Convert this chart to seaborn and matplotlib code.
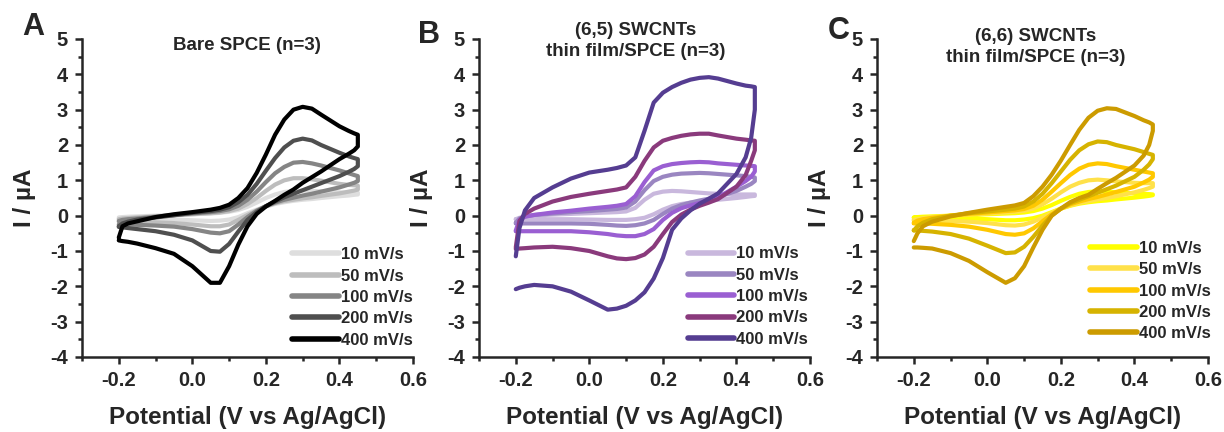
import numpy as np
import pandas as pd
import matplotlib
matplotlib.use("Agg")
import matplotlib.pyplot as plt
from matplotlib.ticker import MultipleLocator
import seaborn as sns

# ---------------- data ----------------
RATES = ["10 mV/s", "50 mV/s", "100 mV/s", "200 mV/s", "400 mV/s"]

V_FWD = [-0.2, -0.19, -0.175, -0.15, -0.1, -0.05, 0.0, 0.05, 0.075, 0.1, 0.125, 0.15,
         0.175, 0.2, 0.225, 0.25, 0.275, 0.3, 0.325, 0.35, 0.4, 0.425, 0.44, 0.45]
V_REV = [0.45, 0.44, 0.425, 0.4, 0.35, 0.325, 0.3, 0.275, 0.25, 0.225, 0.2, 0.175,
         0.15, 0.125, 0.1, 0.075, 0.05, 0.0, -0.05, -0.1, -0.15, -0.175, -0.19, -0.2]

# Panel A: bare SPCE
A_FWD_10 = [-0.05, -0.04, -0.03, -0.02, 0.0, 0.02, 0.04, 0.06, 0.08, 0.11, 0.16, 0.25, 0.37, 0.5, 0.6, 0.67, 0.7, 0.71, 0.7, 0.69, 0.66, 0.65, 0.65, 0.65]
A_FWD_50 = [-0.1, -0.08, -0.07, -0.05, -0.02, 0.01, 0.04, 0.07, 0.09, 0.13, 0.2, 0.33, 0.5, 0.7, 0.88, 1.0, 1.06, 1.06, 1.03, 0.99, 0.9, 0.87, 0.86, 0.85]
A_FWD_100 = [-0.15, -0.12, -0.1, -0.08, -0.03, 0.02, 0.06, 0.1, 0.13, 0.18, 0.28, 0.45, 0.68, 0.95, 1.2, 1.38, 1.5, 1.52, 1.48, 1.42, 1.28, 1.2, 1.15, 1.12]
A_FWD_200 = [-0.3, -0.22, -0.17, -0.11, -0.05, 0.01, 0.08, 0.13, 0.17, 0.24, 0.38, 0.59, 0.9, 1.27, 1.63, 1.93, 2.12, 2.18, 2.13, 2.0, 1.78, 1.68, 1.63, 1.6]
A_FWD_400 = [-0.62, -0.3, -0.22, -0.16, -0.04, 0.04, 0.1, 0.17, 0.22, 0.31, 0.5, 0.78, 1.21, 1.73, 2.29, 2.72, 3.0, 3.08, 3.03, 2.86, 2.53, 2.4, 2.33, 2.29]
A_REV_10 = [0.6, 0.59, 0.57, 0.55, 0.5, 0.47, 0.45, 0.42, 0.38, 0.33, 0.26, 0.17, 0.07, -0.04, -0.11, -0.14, -0.15, -0.13, -0.11, -0.1, -0.09, -0.09, -0.09, -0.09]
A_REV_50 = [0.74, 0.71, 0.68, 0.63, 0.56, 0.52, 0.49, 0.45, 0.41, 0.35, 0.26, 0.15, 0.02, -0.12, -0.25, -0.3, -0.3, -0.25, -0.21, -0.19, -0.18, -0.17, -0.17, -0.17]
A_REV_100 = [0.98, 0.93, 0.88, 0.8, 0.68, 0.62, 0.57, 0.51, 0.45, 0.37, 0.27, 0.14, -0.04, -0.25, -0.44, -0.5, -0.48, -0.38, -0.31, -0.28, -0.26, -0.25, -0.25, -0.25]
A_REV_200 = [1.4, 1.32, 1.24, 1.12, 0.92, 0.82, 0.72, 0.62, 0.52, 0.4, 0.27, 0.1, -0.12, -0.45, -0.8, -1.02, -1.0, -0.7, -0.54, -0.44, -0.38, -0.35, -0.33, -0.32]
A_REV_400 = [1.96, 1.85, 1.75, 1.6, 1.25, 1.09, 0.93, 0.74, 0.59, 0.42, 0.26, 0.05, -0.3, -0.82, -1.43, -1.9, -1.9, -1.43, -1.08, -0.92, -0.79, -0.74, -0.72, -0.7]

# Panel B: (6,5) SWCNTs thin film/SPCE
B_FWD_10 = [-0.1, -0.06, -0.03, 0.0, 0.03, 0.05, 0.07, 0.09, 0.1, 0.12, 0.22, 0.45, 0.62, 0.68, 0.7, 0.69, 0.67, 0.65, 0.63, 0.62, 0.6, 0.6, 0.6, 0.6]
B_FWD_50 = [-0.2, -0.08, -0.02, 0.02, 0.06, 0.1, 0.13, 0.17, 0.19, 0.23, 0.4, 0.72, 0.98, 1.1, 1.16, 1.19, 1.2, 1.21, 1.2, 1.18, 1.14, 1.12, 1.1, 1.08]
B_FWD_100 = [-0.42, -0.12, -0.03, 0.02, 0.09, 0.14, 0.2, 0.25, 0.28, 0.33, 0.55, 0.95, 1.28, 1.4, 1.46, 1.49, 1.51, 1.52, 1.51, 1.48, 1.44, 1.42, 1.41, 1.4]
B_FWD_200 = [-0.9, -0.15, 0.05, 0.2, 0.4, 0.53, 0.62, 0.7, 0.74, 0.8, 1.1, 1.55, 1.93, 2.12, 2.2, 2.26, 2.3, 2.32, 2.32, 2.27, 2.18, 2.15, 2.13, 2.12]
B_FWD_400 = [-1.15, -0.35, 0.15, 0.5, 0.8, 1.05, 1.22, 1.3, 1.35, 1.42, 1.65, 2.4, 3.2, 3.48, 3.64, 3.76, 3.85, 3.9, 3.92, 3.88, 3.74, 3.68, 3.66, 3.64]
B_REV_10 = [0.56, 0.55, 0.53, 0.5, 0.45, 0.42, 0.4, 0.37, 0.33, 0.27, 0.17, 0.04, -0.06, -0.1, -0.12, -0.12, -0.12, -0.11, -0.1, -0.1, -0.1, -0.1, -0.1, -0.1]
B_REV_50 = [0.98, 0.9, 0.82, 0.7, 0.53, 0.48, 0.43, 0.37, 0.3, 0.2, 0.05, -0.12, -0.22, -0.27, -0.29, -0.28, -0.26, -0.23, -0.22, -0.22, -0.22, -0.22, -0.22, -0.22]
B_REV_100 = [1.25, 1.1, 0.98, 0.82, 0.52, 0.44, 0.36, 0.29, 0.21, 0.08, -0.12, -0.38, -0.52, -0.58, -0.58, -0.56, -0.52, -0.47, -0.44, -0.44, -0.44, -0.44, -0.44, -0.44]
B_REV_200 = [1.85, 1.55, 1.15, 0.82, 0.47, 0.37, 0.28, 0.17, 0.03, -0.18, -0.52, -0.88, -1.1, -1.2, -1.23, -1.21, -1.15, -1.0, -0.92, -0.88, -0.9, -0.92, -0.93, -0.94]
B_REV_400 = [3.0, 2.2, 1.65, 1.18, 0.63, 0.48, 0.34, 0.15, -0.08, -0.4, -1.2, -1.78, -2.17, -2.4, -2.55, -2.63, -2.66, -2.4, -2.15, -2.0, -1.96, -2.0, -2.04, -2.08]

# Panel C: (6,6) SWCNTs thin film/SPCE
C_FWD_10 = [-0.05, -0.04, -0.03, -0.02, 0.0, 0.02, 0.04, 0.06, 0.07, 0.09, 0.13, 0.2, 0.3, 0.42, 0.53, 0.62, 0.67, 0.69, 0.68, 0.66, 0.63, 0.62, 0.61, 0.6]
C_FWD_50 = [-0.12, -0.1, -0.07, -0.04, 0.0, 0.03, 0.06, 0.09, 0.11, 0.14, 0.2, 0.32, 0.48, 0.66, 0.82, 0.93, 1.0, 1.02, 1.0, 0.97, 0.93, 0.92, 0.92, 0.92]
C_FWD_100 = [-0.2, -0.14, -0.1, -0.06, 0.0, 0.05, 0.09, 0.13, 0.15, 0.19, 0.28, 0.45, 0.68, 0.92, 1.15, 1.33, 1.44, 1.48, 1.46, 1.4, 1.3, 1.25, 1.22, 1.2]
C_FWD_200 = [-0.42, -0.3, -0.2, -0.1, 0.0, 0.07, 0.12, 0.17, 0.2, 0.26, 0.4, 0.62, 0.92, 1.25, 1.58, 1.85, 2.02, 2.1, 2.08, 2.0, 1.88, 1.8, 1.75, 1.72]
C_FWD_400 = [-0.72, -0.5, -0.3, -0.17, -0.02, 0.08, 0.17, 0.25, 0.29, 0.36, 0.55, 0.82, 1.16, 1.56, 2.0, 2.43, 2.77, 2.97, 3.04, 3.02, 2.82, 2.7, 2.64, 2.58]
C_REV_10 = [0.58, 0.56, 0.54, 0.51, 0.46, 0.43, 0.41, 0.38, 0.34, 0.28, 0.2, 0.1, 0.0, -0.07, -0.11, -0.13, -0.13, -0.1, -0.08, -0.07, -0.06, -0.06, -0.06, -0.06]
C_REV_50 = [0.82, 0.78, 0.73, 0.66, 0.55, 0.5, 0.46, 0.41, 0.36, 0.29, 0.2, 0.08, -0.05, -0.17, -0.25, -0.28, -0.27, -0.21, -0.17, -0.15, -0.14, -0.13, -0.13, -0.13]
C_REV_100 = [1.1, 1.02, 0.94, 0.82, 0.67, 0.6, 0.53, 0.47, 0.4, 0.32, 0.2, 0.04, -0.16, -0.36, -0.5, -0.54, -0.52, -0.4, -0.31, -0.26, -0.23, -0.22, -0.22, -0.22]
C_REV_200 = [1.6, 1.45, 1.3, 1.1, 0.85, 0.75, 0.65, 0.55, 0.45, 0.35, 0.2, 0.0, -0.28, -0.6, -0.88, -1.04, -1.06, -0.85, -0.65, -0.52, -0.45, -0.43, -0.42, -0.41]
C_REV_400 = [2.4, 2.0, 1.7, 1.42, 1.07, 0.92, 0.76, 0.59, 0.5, 0.38, 0.2, 0.0, -0.4, -0.9, -1.43, -1.77, -1.9, -1.6, -1.28, -1.06, -0.93, -0.91, -0.9, -0.9]

COLORS_A = ["#dedede", "#bdbdbd", "#858585", "#4f4f4f", "#000000"]
COLORS_B = ["#c9b8dd", "#9a86c1", "#9a5fd2", "#8a3a7c", "#553d91"]
COLORS_C = ["#ffff00", "#ffe14a", "#ffc800", "#d6b300", "#cc9b00"]

TITLES = ["Bare SPCE (n=3)", "(6,5) SWCNTs\nthin film/SPCE (n=3)", "(6,6) SWCNTs\nthin film/SPCE (n=3)"]
LETTERS = ["A", "B", "C"]

# ---------------- style ----------------
sns.set_style("ticks")
plt.rcParams["font.family"] = ["Liberation Sans", "DejaVu Sans"]
plt.rcParams["font.weight"] = "bold"
plt.rcParams["axes.labelweight"] = "bold"
plt.rcParams["axes.unicode_minus"] = False
plt.rcParams["axes.linewidth"] = 1.8


def build_df(fwd, rev):
    rows = []
    for lab, f, r in zip(RATES, fwd, rev):
        vv = list(V_FWD) + list(V_REV)
        ii = list(f) + list(r)
        for k, (v, i) in enumerate(zip(vv, ii)):
            rows.append({"rate": lab, "V": v, "I": i, "step": k})
    return pd.DataFrame(rows)


panels = [
    (build_df([A_FWD_10, A_FWD_50, A_FWD_100, A_FWD_200, A_FWD_400],
              [A_REV_10, A_REV_50, A_REV_100, A_REV_200, A_REV_400]), COLORS_A),
    (build_df([B_FWD_10, B_FWD_50, B_FWD_100, B_FWD_200, B_FWD_400],
              [B_REV_10, B_REV_50, B_REV_100, B_REV_200, B_REV_400]), COLORS_B),
    (build_df([C_FWD_10, C_FWD_50, C_FWD_100, C_FWD_200, C_FWD_400],
              [C_REV_10, C_REV_50, C_REV_100, C_REV_200, C_REV_400]), COLORS_C),
]

fig = plt.figure(figsize=(12.24, 4.32), dpi=100)
W, H = 1224.0, 432.0
ax_left_px = [82, 479, 877]
ax_w_px = 331
ax_top_px, ax_bot_px = 39, 357

legend_anchor = [(0.635, 0.345), (0.63, 0.348), (0.645, 0.365)]
letter_pos = [(22, 12), (418, 20), (828, 16)]
title_pos = [(247, 45), (636, 41), (1036, 47)]

for p, ((df, cols), letter, title) in enumerate(zip(panels, LETTERS, TITLES)):
    ax = fig.add_axes([ax_left_px[p] / W, 1 - ax_bot_px / H, ax_w_px / W,
                       (ax_bot_px - ax_top_px) / H])
    sns.lineplot(data=df, x="V", y="I", hue="rate", hue_order=RATES,
                 palette=cols, sort=False, estimator=None, units="rate",
                 lw=3.0, ax=ax, solid_capstyle="round", solid_joinstyle="round")
    ax.set_xlim(-0.3, 0.6)
    ax.set_ylim(-4, 5)
    ax.xaxis.set_major_locator(MultipleLocator(0.2))
    ax.xaxis.set_minor_locator(MultipleLocator(0.1))
    ax.yaxis.set_major_locator(MultipleLocator(1))
    ax.yaxis.set_minor_locator(MultipleLocator(0.5))
    ax.set_xticks([-0.2, 0.0, 0.2, 0.4, 0.6])
    ax.set_xticklabels(["-0.2", "0.0", "0.2", "0.4", "0.6"])
    ax.tick_params(which="major", direction="out", length=5, width=1.8,
                   labelsize=14.5, pad=5)
    ax.tick_params(which="minor", direction="out", length=3, width=1.8)
    for t in ax.get_xticklabels() + ax.get_yticklabels():
        t.set_fontweight("bold")
    sns.despine(ax=ax)
    ax.set_xlabel("Potential (V vs Ag/AgCl)", fontsize=17.5, fontweight="bold")
    ax.set_ylabel("I / µA", fontsize=17.5, fontweight="bold")
    ax.xaxis.set_label_coords(0.5, -0.155)
    ax.yaxis.set_label_coords(-0.138, 0.5)

    handles, labels = ax.get_legend_handles_labels()
    for h in handles:
        h.set_linewidth(4.0)
    ax.legend(handles, labels, loc="upper left", bbox_to_anchor=legend_anchor[p],
              frameon=False, handlelength=2.8, handletextpad=0.12,
              labelspacing=0.38, borderaxespad=0, borderpad=0,
              prop={"size": 12, "weight": "bold"})

    fig.text(letter_pos[p][0] / W, 1 - letter_pos[p][1] / H, letter,
             fontsize=22, fontweight="bold", ha="left", va="top")
    fig.text(title_pos[p][0] / W, 1 - title_pos[p][1] / H, title,
             fontsize=13.5, fontweight="bold", ha="center", va="center",
             linespacing=1.35)

fig.savefig("out.png", dpi=100)
